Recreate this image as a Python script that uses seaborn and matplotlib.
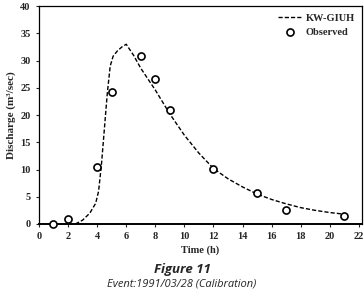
import numpy as np
import pandas as pd
import matplotlib
matplotlib.use("Agg")
import matplotlib.pyplot as plt
import seaborn as sns

# ===================== Data =====================
model_time = [2.5, 3.0, 3.5, 3.9, 4.1, 4.3, 4.5, 4.7, 4.9, 5.1, 5.4, 5.7, 6.0,
              6.5, 7.0, 8.0, 9.0, 10.0, 11.0, 12.0, 13.0, 14.0, 15.0, 16.0,
              17.0, 18.0, 19.0, 20.0, 21.0]
model_q = [0.0, 0.7, 2.0, 3.8, 6.0, 11.0, 17.5, 24.0, 29.0, 30.8, 31.8, 32.5, 33.0,
           31.0, 28.6, 24.6, 20.2, 16.3, 13.0, 10.2, 8.3, 6.8, 5.5, 4.5,
           3.7, 3.0, 2.5, 2.1, 1.8]

obs_time = [1, 2, 4, 5, 7, 8, 9, 12, 15, 17, 21]
obs_q = [0.0, 0.9, 10.4, 24.2, 30.8, 26.7, 20.9, 10.1, 5.6, 2.6, 1.4]

x_ticks = list(range(0, 23, 2))
y_ticks = list(range(0, 41, 5))

model_df = pd.DataFrame({'Time': model_time, 'Q': model_q})
obs_df = pd.DataFrame({'Time': obs_time, 'Q': obs_q})

# ===================== Style =====================
sns.set_style('ticks')
serif = ['Liberation Serif', 'DejaVu Serif']
plt.rcParams['font.family'] = serif

fig = plt.figure(figsize=(3.64, 3.06), dpi=100)
ax = fig.add_axes([0.107, 0.268, 0.887, 0.712])

sns.lineplot(data=model_df, x='Time', y='Q', ax=ax, color='black',
             linestyle=(0, (3, 1.5)), linewidth=1.0, label='KW-GIUH')
sns.scatterplot(data=obs_df, x='Time', y='Q', ax=ax, marker='o', s=26,
                facecolor='white', edgecolor='black', linewidth=1.2,
                label='Observed', zorder=3, clip_on=False)

ax.set_xlim(0, 22.2)
ax.set_ylim(0, 40)
ax.set_xticks(x_ticks)
ax.set_yticks(y_ticks)
ax.tick_params(axis='both', labelsize=7.5, length=2, width=0.8, pad=4)
for lab in ax.get_xticklabels() + ax.get_yticklabels():
    lab.set_fontweight('bold')
for sp in ax.spines.values():
    sp.set_visible(True)
    sp.set_linewidth(0.9)
    sp.set_color('black')
ax.spines['bottom'].set_linewidth(1.4)

ax.set_xlabel('Time (h)', fontsize=7.5, fontweight='bold', labelpad=3)
ax.set_ylabel('Discharge (m³/sec)', fontsize=8, fontweight='bold', labelpad=3)

leg = ax.legend(loc='upper right', frameon=False, fontsize=7.5,
                handlelength=2.2, handletextpad=0.4, borderaxespad=0.3,
                labelspacing=0.5)
for t in leg.get_texts():
    t.set_fontweight('bold')

fig.text(0.5, 0.12, 'Figure 11', ha='center', va='center', fontsize=9.5,
         fontweight='bold', style='italic', family=['Open Sans', 'DejaVu Sans'])
fig.text(0.5, 0.072, 'Event:1991/03/28 (Calibration)', ha='center', va='center',
         fontsize=8, style='italic', family=['Open Sans', 'DejaVu Sans'])

fig.savefig('out.png', dpi=100, facecolor='white')
